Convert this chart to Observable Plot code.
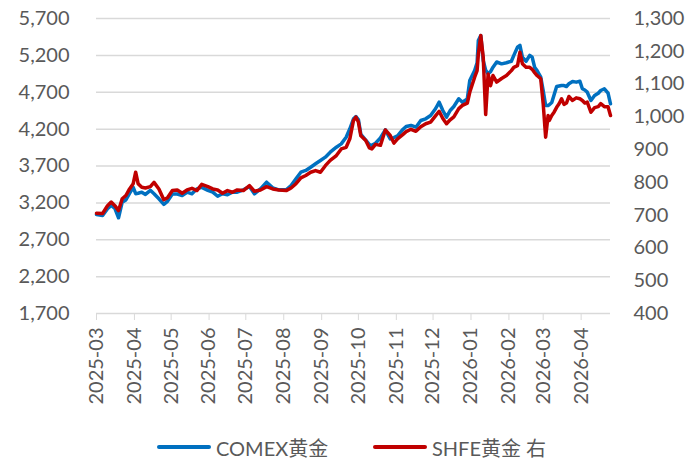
<!DOCTYPE html>
<html><head><meta charset="utf-8">
<script src="https://cdn.jsdelivr.net/npm/d3@7"></script>
<script src="https://cdn.jsdelivr.net/npm/@observablehq/plot@0.6"></script>
<style>
body{margin:0;background:#fff;font-family:Lato,"Noto Sans CJK SC",sans-serif;}
#chart{position:relative;width:689px;height:458px;overflow:hidden;}
#legend{position:absolute;top:433px;left:0;width:689px;height:28px;font-size:20px;color:#595959;}
.item{position:absolute;top:0;height:28px;display:flex;align-items:center;white-space:nowrap;}
.sw{width:54px;height:4px;border-radius:2px;margin-right:5px;}
</style></head><body>
<div id="chart"><div id="plot"></div><div id="legend"></div></div>
<script>
const dates = ["2025-03-01","2025-03-06","2025-03-10","2025-03-13","2025-03-16","2025-03-19","2025-03-22","2025-03-25","2025-03-28","2025-03-31",
"2025-04-02","2025-04-04","2025-04-07","2025-04-10","2025-04-14","2025-04-17","2025-04-21","2025-04-25","2025-04-28",
"2025-05-02","2025-05-06","2025-05-10","2025-05-14","2025-05-18","2025-05-22","2025-05-26","2025-05-31",
"2025-06-04","2025-06-08","2025-06-12","2025-06-16","2025-06-20","2025-06-24","2025-06-29",
"2025-07-04","2025-07-08","2025-07-13","2025-07-18","2025-07-23","2025-07-28",
"2025-08-03","2025-08-07","2025-08-11","2025-08-15","2025-08-19","2025-08-23","2025-08-27","2025-08-31",
"2025-09-04","2025-09-08","2025-09-13","2025-09-17","2025-09-21","2025-09-24","2025-09-27","2025-09-29",
"2025-10-01","2025-10-03","2025-10-07","2025-10-10","2025-10-12","2025-10-15","2025-10-19","2025-10-23","2025-10-27","2025-10-30",
"2025-11-02","2025-11-06","2025-11-09","2025-11-13","2025-11-17","2025-11-21","2025-11-25","2025-11-29",
"2025-12-03","2025-12-06","2025-12-09","2025-12-12","2025-12-15","2025-12-18","2025-12-22","2025-12-25","2025-12-29","2025-12-31",
"2026-01-04","2026-01-06","2026-01-07","2026-01-09","2026-01-11","2026-01-13","2026-01-15","2026-01-17","2026-01-19","2026-01-22","2026-01-26","2026-01-30",
"2026-02-03","2026-02-05","2026-02-08","2026-02-10","2026-02-12","2026-02-15","2026-02-18","2026-02-20","2026-02-22","2026-02-24","2026-02-27",
"2026-03-01","2026-03-03","2026-03-05","2026-03-06","2026-03-08","2026-03-10","2026-03-12","2026-03-14","2026-03-16","2026-03-18","2026-03-20","2026-03-22","2026-03-25","2026-03-28","2026-03-31",
"2026-04-02","2026-04-04","2026-04-06","2026-04-09","2026-04-12","2026-04-15","2026-04-17","2026-04-20","2026-04-23","2026-04-25"];

const comex = [3042,3030,3120,3165,3125,2998,3210,3240,3330,3410,
3325,3330,3345,3315,3370,3323,3255,3180,3220,
3320,3320,3300,3345,3323,3390,3410,3370,
3345,3290,3323,3310,3345,3345,3377,
3422,3323,3390,3480,3404,3377,
3377,3436,3526,3616,3640,3684,3730,3775,
3820,3887,3955,4000,4090,4205,4340,4371,
4330,4130,4050,3990,3980,4010,4080,4190,4068,4085,
4110,4190,4235,4250,4226,4317,4340,4385,
4476,4565,4453,4362,4453,4507,4611,4565,4611,4859,
4995,5100,5402,5470,5130,5000,4950,4980,5040,5110,5085,5100,
5120,5200,5310,5335,5175,5120,5200,5175,5040,4995,4905,
4724,4520,4520,4530,4560,4670,4778,4785,4792,4790,4778,4815,4846,4837,4850,
4747,4730,4701,4588,4656,4687,4724,4747,4687,4543];

const shfe = [706,705,729,740,729,714,750,760,780,796,
831,796,785,783,787,800,780,747,753,
775,777,767,777,782,775,794,787,
780,777,767,775,770,777,775,
790,773,777,787,780,777,
775,783,796,814,821,831,836,831,
851,867,882,902,907,933,989,999,
984,942,928,905,902,916,913,960,943,920,
933,945,955,962,956,970,979,984,
1003,1017,995,979,991,1000,1025,1035,1042,1075,
1121,1141,1190,1248,1182,1007,1131,1095,1126,1106,1117,1126,
1141,1151,1156,1197,1162,1151,1151,1145,1135,1126,1116,
1040,938,1004,989,1004,1015,1029,1040,1055,1038,1042,1062,1050,1058,1055,
1050,1042,1045,1014,1028,1031,1040,1031,1031,1004];

const leftTicks = [1700,2200,2700,3200,3700,4200,4700,5200,5700];
const rightTicks = [400,500,600,700,800,900,1000,1100,1200,1300];
const monthTicks = ["2025-03-01","2025-04-01","2025-05-01","2025-06-01","2025-07-01","2025-08-01","2025-09-01","2025-10-01","2025-11-01","2025-12-01","2026-01-01","2026-02-01","2026-03-01","2026-04-01"];
const xDomain = ["2025-03-01","2026-04-25"];
const seriesNames = ["COMEX黄金","SHFE黄金 右"];
const colors = ["#0070C0","#C00000"];

// right axis (SHFE) mapped onto the left scale
const L0 = leftTicks[0], L1 = leftTicks[leftTicks.length-1];
const R0 = rightTicks[0], R1 = rightTicks[rightTicks.length-1];
const toLeft = r => L0 + (r - R0) * (L1 - L0) / (R1 - R0);
const toRight = v => R0 + (v - L0) * (R1 - R0) / (L1 - L0);

const data = dates.map((d, i) => ({date: new Date(d), comex: comex[i], shfe: toLeft(shfe[i])}));
const fmt = d3.format(",");

const chart = Plot.plot({
  width: 689, height: 420,
  marginLeft: 96, marginRight: 79, marginTop: 18, marginBottom: 107,
  x: {type: "utc", domain: xDomain.map(d => new Date(d))},
  y: {domain: [L0, L1]},
  style: {fontFamily: 'Lato, "Noto Sans CJK SC", sans-serif', fontSize: "20px", color: "#595959", background: "white"},
  marks: [
    Plot.ruleY(leftTicks, {stroke: "#d9d9d9", strokeWidth: 1.5}),
    Plot.axisX({ticks: monthTicks.map(d => new Date(d)), tickFormat: d3.utcFormat("%Y-%m"), tickRotate: -90, tickSize: 7, tickPadding: 7, stroke: "#d9d9d9", fill: "#595959", fontSize: 20, label: null}),
    Plot.axisY({anchor: "left", ticks: leftTicks, tickFormat: fmt, tickSize: 0, tickPadding: 27, fill: "#595959", fontSize: 20, label: null}),
    Plot.axisY({anchor: "right", ticks: rightTicks.map(toLeft), tickFormat: v => fmt(Math.round(toRight(v))), tickSize: 0, tickPadding: 23, fill: "#595959", fontSize: 20, label: null}),
    Plot.line(data, {x: "date", y: "comex", stroke: colors[0], strokeWidth: 3.5}),
    Plot.line(data, {x: "date", y: "shfe", stroke: colors[1], strokeWidth: 3.5})
  ]
});
document.getElementById("plot").appendChild(chart);

const legend = document.getElementById("legend");
const lefts = [157, 373];
seriesNames.forEach((n, i) => {
  const it = document.createElement("div");
  it.className = "item";
  it.style.left = lefts[i] + "px";
  it.innerHTML = `<span class="sw" style="background:${colors[i]}"></span><span>${n}</span>`;
  legend.appendChild(it);
});
</script>
</body></html>
